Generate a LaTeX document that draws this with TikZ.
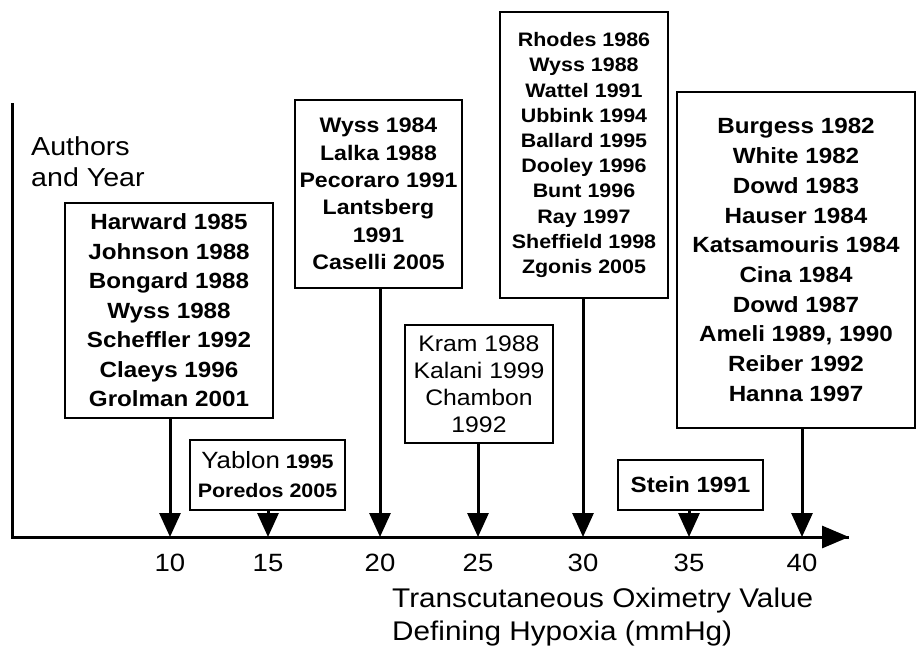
\documentclass[tikz,border=0pt]{standalone}
\usepackage{fontspec}
\setmainfont{Liberation Sans}[FakeStretch=1.1]
\usetikzlibrary{arrows.meta}
\tikzset{
  box/.style={draw=black, line width=2.7pt, inner sep=0pt, align=center, fill=white},
  stem/.style={line width=3pt, -{Triangle[width=21pt,length=24pt]}},
  axis/.style={line width=3pt},
  ticklab/.style={font=\fontsize{25}{28}\selectfont},
}
\newcommand{\fs}[2]{\fontsize{#1}{#2}\selectfont}
\begin{document}
\begin{tikzpicture}[x=1pt,y=-1pt]
\useasboundingbox (0,0) rectangle (917,646);
% axes
\coordinate (vtop) at (12,103);
\coordinate (origin) at (12,537);
\coordinate (axend) at (849,537);
\draw[axis, line join=miter] (vtop) -- (origin) -- (axend);
\draw[line width=3pt, -{Triangle[width=22pt,length=27pt]}] (820,537) -- (axend);
% tick coordinates
\coordinate (t10) at (170,537);
\coordinate (t15) at (268,537);
\coordinate (t20) at (380,537);
\coordinate (t25) at (478,537);
\coordinate (t30) at (583,537);
\coordinate (t35) at (689,537);
\coordinate (t40) at (802,537);
% tick labels
\node[ticklab] (l10) at (170,563) {10};
\node[ticklab] (l15) at (268,563) {15};
\node[ticklab] (l20) at (380,563) {20};
\node[ticklab] (l25) at (478,563) {25};
\node[ticklab] (l30) at (583,563) {30};
\node[ticklab] (l35) at (689,563) {35};
\node[ticklab] (l40) at (802,563) {40};
% axis titles
\node[anchor=west, align=left, inner sep=0pt, font=\fs{26}{31}] (ylab) at (31,162) {Authors\\and Year};
\node[anchor=west, align=left, inner sep=0pt, font=\fs{27}{33}] (xlab) at (392,617) {Transcutaneous Oximetry Value\\Defining Hypoxia (mmHg)};
% boxes
\node[box, minimum width=208pt, minimum height=215pt, font=\bfseries\fs{22}{29.5}] (hbox) at (169,310.5)
  {Harward 1985\\Johnson 1988\\Bongard 1988\\Wyss 1988\\Scheffler 1992\\Claeys 1996\\Grolman 2001};
\node[box, minimum width=155pt, minimum height=70pt, font=\fs{19.5}{29}] (ybox) at (267.5,475)
  {{\fs{23.5}{29}Yablon} \textbf{1995}\\\textbf{Poredos 2005}};
\node[box, minimum width=167pt, minimum height=188pt, font=\bfseries\fs{21}{27.3}] (wbox) at (378.5,194)
  {Wyss 1984\\Lalka 1988\\Pecoraro 1991\\Lantsberg\\1991\\Caselli 2005};
\node[box, minimum width=148pt, minimum height=118pt, font=\fs{22.5}{27}] (kbox) at (479,384)
  {Kram 1988\\Kalani 1999\\Chambon\\1992};
\node[box, minimum width=168pt, minimum height=286pt, font=\bfseries\fs{19.5}{25.2}] (rbox) at (584,155)
  {Rhodes 1986\\Wyss 1988\\Wattel 1991\\Ubbink 1994\\Ballard 1995\\Dooley 1996\\Bunt 1996\\Ray 1997\\Sheffield 1998\\Zgonis 2005};
\node[box, minimum width=145pt, minimum height=50pt, font=\bfseries\fs{22}{27}] (sbox) at (690.5,485)
  {Stein 1991};
\node[box, minimum width=238pt, minimum height=336pt, font=\bfseries\fs{22}{29.7}] (bbox) at (796,260)
  {Burgess 1982\\White 1982\\Dowd 1983\\Hauser 1984\\Katsamouris 1984\\Cina 1984\\Dowd 1987\\Ameli 1989, 1990\\Reiber 1992\\Hanna 1997};
% connectors
\draw[stem] (t10 |- hbox.south) -- (t10);
\draw[stem] (t15 |- ybox.south) -- (t15);
\draw[stem] (t20 |- wbox.south) -- (t20);
\draw[stem] (t25 |- kbox.south) -- (t25);
\draw[stem] (t30 |- rbox.south) -- (t30);
\draw[stem] (t35 |- sbox.south) -- (t35);
\draw[stem] (t40 |- bbox.south) -- (t40);
\end{tikzpicture}
\end{document}
